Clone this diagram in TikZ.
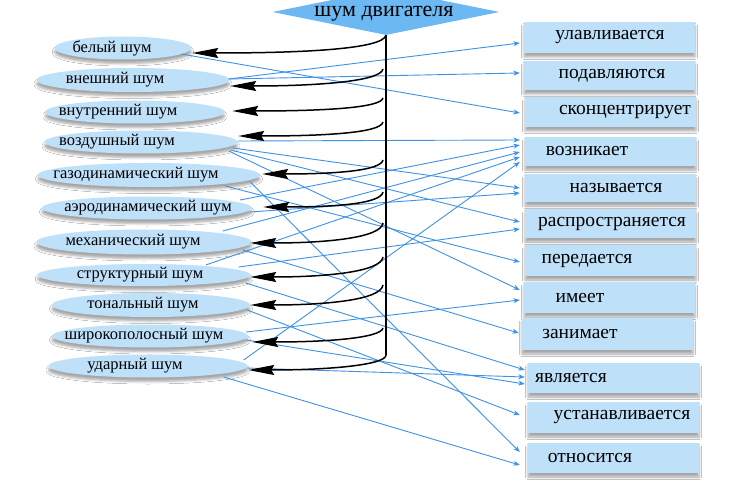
\documentclass[tikz,border=0pt]{standalone}
\usepackage{fontspec}
\setmainfont{Liberation Serif}
\usetikzlibrary{shapes.geometric,arrows.meta,shadows.blur}
\definecolor{ellfill}{RGB}{190,224,249}
\definecolor{diafill}{RGB}{108,184,242}
\definecolor{lineblue}{RGB}{62,146,228}
\begin{document}
\begin{tikzpicture}[x=1pt,y=-1pt,
  ell/.style={ellipse,fill=ellfill,inner sep=0pt,blur shadow={shadow xshift=0pt,shadow yshift=-4pt,shadow blur radius=2.5pt,shadow opacity=35}},
  boxn/.style={rectangle,fill=ellfill,inner sep=0pt,minimum width=171pt,blur shadow={shadow xshift=0pt,shadow yshift=-4pt,shadow blur radius=2.5pt,shadow opacity=35}},
  lt/.style={inner sep=0pt,font=\fontsize{16.5}{19}\selectfont},
  rt/.style={inner sep=0pt,font=\fontsize{19.5}{23}\selectfont},
  bl/.style={draw=lineblue,line width=0.9pt,-{Stealth[length=6.5pt,width=5pt]}},
  bk/.style={draw=black,line width=1.5pt,-{Stealth[length=26pt,width=10pt,inset=3pt]}}]
\useasboundingbox (0,0) rectangle (730,486);
\fill[white] (0,0) rectangle (730,486);

% title diamond
\node[diamond,fill=diafill,minimum width=227pt,minimum height=46pt,inner sep=0pt] (top) at (386,12) {};

% ellipses
\node[ell,minimum width=137pt,minimum height=23pt] (e1) at (123,48) {};
\node[ell,minimum width=193pt,minimum height=24pt] (e2) at (133,80) {};
\node[ell,minimum width=180pt,minimum height=23pt] (e3) at (135,112) {};
\node[ell,minimum width=193pt,minimum height=23pt] (e4) at (141,142) {};
\node[ell,minimum width=222pt,minimum height=24pt] (e5) at (149,175) {};
\node[ell,minimum width=210pt,minimum height=23pt] (e6) at (147,208) {};
\node[ell,minimum width=215pt,minimum height=25pt] (e7) at (144,242) {};
\node[ell,minimum width=213pt,minimum height=22pt] (e8) at (144,275) {};
\node[ell,minimum width=198pt,minimum height=24pt] (e9) at (151,305) {};
\node[ell,minimum width=196pt,minimum height=23pt] (e10) at (150,336) {};
\node[ell,minimum width=199pt,minimum height=23pt] (e11) at (148,366) {};

% boxes
\node[boxn,minimum height=31pt] (b1) at (609.5,37.5) {};
\node[boxn,minimum height=29pt] (b2) at (609.5,75.5) {};
\node[boxn,minimum height=30pt] (b3) at (610.5,112) {};
\node[boxn,minimum height=29pt] (b4) at (610.5,151.5) {};
\node[boxn,minimum height=28pt] (b5) at (610.5,188) {};
\node[boxn,minimum height=29pt] (b6) at (610.5,223.5) {};
\node[boxn,minimum height=31pt] (b7) at (610.5,260.5) {};
\node[boxn,minimum height=31pt] (b8) at (609.5,297.5) {};
\node[boxn,minimum height=32pt] (b9) at (607.5,334) {};
\node[boxn,minimum height=30pt] (b10) at (613.5,378) {};
\node[boxn,minimum height=31pt] (b11) at (613.5,417.5) {};
\node[boxn,minimum height=30pt] (b12) at (613.5,458) {};

% blue connectors
\draw[bl] ([shift={(-10.5,6)}]e1.east) -- ([shift={(-5,1)}]b3.west);
\draw[bl] ([shift={(-1,-1)}]e2.east) -- ([shift={(-4,5.5)}]b1.west);
\draw[bl] ([shift={(-1,-1)}]e2.east) -- ([shift={(-4,-2.5)}]b2.west);
\draw[bl] ([shift={(0,-1)}]e4.east) -- ([shift={(-5,-11.5)}]b4.west);
\draw[bl] ([shift={(-5,6)}]e4.east) -- ([shift={(-5,0)}]b5.west);
\draw[bl] ([shift={(-7,8)}]e4.east) -- ([shift={(-5,-1.5)}]b6.west);
\draw[bl] ([shift={(-9,9)}]e4.east) -- ([shift={(-4,-7.5)}]b8.west);
\draw[bl] ([shift={(-10,7)}]e5.east) -- ([shift={(-8,-6)}]b12.west);
\draw[bl] ([shift={(-35,11)}]e5.east) -- ([shift={(-5,1.5)}]b7.west);
\draw[bl] ([shift={(-12,-8)}]e6.east) -- ([shift={(-5,-6.5)}]b4.west);
\draw[bl] ([shift={(-2,4)}]e6.east) -- ([shift={(-5,5)}]b5.west);
\draw[bl] ([shift={(-29,-11)}]e7.east) -- ([shift={(-5,0.5)}]b4.west);
\draw[bl] ([shift={(-9,8)}]e7.east) -- ([shift={(-3,-1)}]b9.west);
\draw[bl] ([shift={(-45,-10)}]e8.east) -- ([shift={(-5,5.5)}]b4.west);
\draw[bl] ([shift={(-12,-8)}]e8.east) -- ([shift={(-5,5.5)}]b6.west);
\draw[bl] ([shift={(-5,8)}]e8.east) -- ([shift={(-3,-8)}]b10.west);
\draw[bl] ([shift={(-3,5)}]e9.east) -- ([shift={(-8,-2.5)}]b11.west);
\draw[bl] ([shift={(-2,-4)}]e10.east) -- ([shift={(-4,2.5)}]b8.west);
\draw[bl] ([shift={(-2,4)}]e10.east) -- ([shift={(-3,6)}]b10.west);
\draw[bl] ([shift={(-4,-6)}]e11.east) -- ([shift={(-5,10.5)}]b4.west);
\draw[bl] ([shift={(-1,2)}]e11.east) -- ([shift={(-3,-1)}]b10.west);
\draw[bl] ([shift={(-24,11)}]e11.east) -- ([shift={(-8,7)}]b12.west);

% black spine and curved arrows
\coordinate (vbot) at (386,355);
\draw[line width=1.1pt] (top.south) -- (vbot);
\coordinate (s2) at (383,69);
\coordinate (s3) at (383,98);
\coordinate (s4) at (383,122);
\coordinate (s5) at (383,160);
\coordinate (s6) at (383,192);
\coordinate (s7) at (383,223);
\coordinate (s8) at (383,257);
\coordinate (s9) at (383,285);
\coordinate (s10) at (383,328);
\draw[bk] (top.south) .. controls +(-3,14) and +(110,0) .. ([shift={(0.5,5)}]e1.east);
\draw[bk] (s2) .. controls +(-2,12) and +(90,0) .. ([shift={(0.5,6)}]e2.east);
\draw[bk] (s3) .. controls +(-2,10) and +(90,0) .. ([shift={(7,-1)}]e3.east);
\draw[bk] (s4) .. controls +(-2,11) and +(85,0) .. ([shift={(0.5,-6)}]e4.east);
\draw[bk] (s5) .. controls +(-2,11) and +(70,0) .. ([shift={(2,-1)}]e5.east);
\draw[bk] (s6) .. controls +(-2,12) and +(70,0) .. ([shift={(11,-1)}]e6.east);
\draw[bk] (s7) .. controls +(-2,15) and +(75,0) .. ([shift={(-1.5,1)}]e7.east);
\draw[bk] (s8) .. controls +(-2,15) and +(75,0) .. ([shift={(-0.5,2)}]e8.east);
\draw[bk] (s9) .. controls +(-2,15) and +(75,0) .. ([shift={(0,0)}]e9.east);
\draw[bk] (s10) .. controls +(-2,10) and +(75,0) .. ([shift={(4,6)}]e10.east);
\draw[bk] (vbot) .. controls +(0,10) and +(80,0) .. ([shift={(0.5,4)}]e11.east);

% texts
\node[inner sep=0pt,font=\fontsize{22}{26}\selectfont] (tt) at (384,14) {шум двигателя};
\node[lt] (t1) at (112,48) {белый шум};
\node[lt] (t2) at (115,80) {внешний шум};
\node[lt] (t3) at (118,112) {внутренний шум};
\node[lt] (t4) at (117,142) {воздушный шум};
\node[lt] (t5) at (136,175) {газодинамический шум};
\node[lt] (t6) at (148,208) {аэродинамический шум};
\node[lt] (t7) at (133,242) {механический шум};
\node[lt] (t8) at (140,275) {структурный шум};
\node[lt] (t9) at (143,305) {тональный шум};
\node[lt] (t10) at (144,336) {широкополосный шум};
\node[lt] (t11) at (135,366) {ударный шум};

\node[rt] (r1) at (610,37.5) {улавливается};
\node[rt] (r2) at (612,75.5) {подавляются};
\node[rt] (r3) at (625,112) {сконцентрирует};
\node[rt] (r4) at (587,151.5) {возникает};
\node[rt] (r5) at (616,188) {называется};
\node[rt] (r6) at (612,223.5) {распространяется};
\node[rt] (r7) at (587,260.5) {передается};
\node[rt] (r8) at (580,297.5) {имеет};
\node[rt] (r9) at (580,334) {занимает};
\node[rt] (r10) at (571,378) {является};
\node[rt] (r11) at (622,417.5) {устанавливается};
\node[rt] (r12) at (590,458) {относится};
\end{tikzpicture}
\end{document}
